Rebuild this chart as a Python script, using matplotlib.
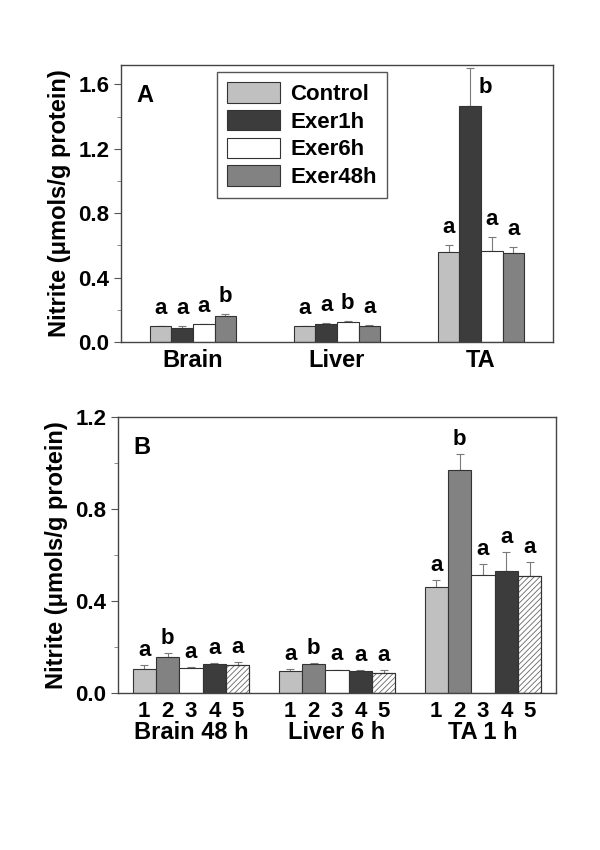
import numpy as np
import matplotlib
matplotlib.use("Agg")
import matplotlib.pyplot as plt
from matplotlib.ticker import MultipleLocator

plt.rcParams['font.family'] = ['Liberation Sans', 'DejaVu Sans']
plt.rcParams['font.weight'] = 'bold'
plt.rcParams['hatch.linewidth'] = 0.6
plt.rcParams['hatch.color'] = '#555555'

# ---- panel A data ----
tissues_a = ['Brain', 'Liver', 'TA']
groups_a = ['Control', 'Exer1h', 'Exer6h', 'Exer48h']
values_a = [[0.097, 0.097, 0.557],   # Control
            [0.089, 0.114, 1.463],   # Exer1h
            [0.110, 0.124, 0.568],   # Exer6h
            [0.164, 0.100, 0.551]]   # Exer48h
errors_a = [[0.005, 0.003, 0.048],
            [0.010, 0.005, 0.240],
            [0.004, 0.004, 0.085],
            [0.010, 0.004, 0.042]]
letters_a = [['a', 'a', 'a'],
             ['a', 'a', 'b'],
             ['a', 'b', 'a'],
             ['b', 'a', 'a']]

# ---- panel B data ----
tissues_b = ['Brain 48 h', 'Liver 6 h', 'TA 1 h']
bar_ids_b = ['1', '2', '3', '4', '5']
values_b = [[0.104, 0.158, 0.108, 0.124, 0.121],
            [0.095, 0.126, 0.100, 0.097, 0.088],
            [0.461, 0.971, 0.515, 0.532, 0.510]]
errors_b = [[0.017, 0.016, 0.006, 0.007, 0.013],
            [0.010, 0.004, 0.002, 0.002, 0.013],
            [0.029, 0.069, 0.045, 0.082, 0.058]]
letters_b = [['a', 'b', 'a', 'a', 'a'],
             ['a', 'b', 'a', 'a', 'a'],
             ['a', 'b', 'a', 'a', 'a']]

colors_a = ['#c0c0c0', '#3c3c3c', '#ffffff', '#828282']
colors_b = ['#c0c0c0', '#828282', '#ffffff', '#3c3c3c', '#ffffff']
hatches_b = [None, None, None, None, '//////']

edge = '#333333'
errc = '#7a7a7a'
fs = 15      # tick labels, letters
fs_lab = 17  # axis / group labels


def style_axes(ax, ymax):
    ax.set_ylim(0, ymax)
    ax.set_xlim(0.5, 3.5)
    ax.yaxis.set_major_locator(MultipleLocator(0.4))
    ax.yaxis.set_minor_locator(MultipleLocator(0.2))
    ax.yaxis.set_major_formatter(plt.FormatStrFormatter('%.1f'))
    ax.tick_params(axis='y', which='major', direction='out', length=5,
                   width=0.8, labelsize=fs + 1, color='#555555')
    ax.tick_params(axis='y', which='minor', direction='out', length=3,
                   width=0.6, color='#777777')
    ax.tick_params(axis='x', length=0)
    for s in ax.spines.values():
        s.set_color('#444444')
        s.set_linewidth(1.0)
    ax.set_ylabel('Nitrite (μmols/g protein)', fontsize=fs_lab,
                  fontweight='bold', labelpad=5)


fig = plt.figure(figsize=(6, 8.5), dpi=100)

# ---------------- panel A ----------------
axA = fig.add_axes([0.2017, 0.5976, 0.72, 0.3259])
centers = np.arange(1, len(tissues_a) + 1)
w = 0.15
n = len(groups_a)
for i, g in enumerate(groups_a):
    x = centers + (i - (n - 1) / 2) * w
    axA.bar(x, values_a[i], width=w, color=colors_a[i], edgecolor=edge,
            linewidth=0.8, label=g, zorder=2)
    axA.errorbar(x, values_a[i], yerr=[np.zeros(len(x)), errors_a[i]],
                 fmt='none', ecolor=errc, elinewidth=0.8, capsize=3,
                 capthick=0.8, zorder=1)
    for j in range(len(x)):
        top = values_a[i][j] + errors_a[i][j]
        off = (0, 5)
        if letters_a[i][j] == 'b' and tissues_a[j] == 'TA':
            off = (11, -22)
        axA.annotate(letters_a[i][j], (x[j], top), xytext=off,
                     textcoords='offset points', ha='center', va='bottom',
                     fontsize=fs + 1, fontweight='bold')
style_axes(axA, 1.72)
axA.set_xticks(centers)
axA.set_xticklabels(tissues_a, fontsize=fs_lab, fontweight='bold')
axA.tick_params(axis='x', pad=5)
axA.text(0.035, 0.93, 'A', transform=axA.transAxes, fontsize=17,
         fontweight='bold', va='top')
leg = axA.legend(loc='upper left', bbox_to_anchor=(0.222, 0.975),
                 fontsize=fs + 1, handlelength=2.4, handleheight=1.05,
                 handletextpad=0.45, labelspacing=0.22, borderpad=0.45,
                 borderaxespad=0, fancybox=False, framealpha=1)
leg.get_frame().set_edgecolor('#555555')
leg.get_frame().set_linewidth(1.0)
for t in leg.get_texts():
    t.set_fontweight('bold')

# ---------------- panel B ----------------
axB = fig.add_axes([0.1967, 0.1847, 0.73, 0.3247])
wb = 0.16
nb = len(bar_ids_b)
ticks = []
ticklabels = []
for j, t in enumerate(tissues_b):
    x = centers[j] + (np.arange(nb) - (nb - 1) / 2) * wb
    axB.bar(x, values_b[j], width=wb, color=colors_b, edgecolor=edge,
            linewidth=0.8, zorder=2)
    for k in range(nb):
        if hatches_b[k]:
            axB.bar(x[k], values_b[j][k], width=wb, color='none',
                    edgecolor='#666666', linewidth=0, hatch=hatches_b[k],
                    zorder=3)
            axB.bar(x[k], values_b[j][k], width=wb, color='none',
                    edgecolor=edge, linewidth=0.8, zorder=4)
    axB.errorbar(x, values_b[j], yerr=[np.zeros(nb), errors_b[j]],
                 fmt='none', ecolor=errc, elinewidth=0.8, capsize=3,
                 capthick=0.8, zorder=1)
    for k in range(nb):
        axB.annotate(letters_b[j][k], (x[k], values_b[j][k] + errors_b[j][k]),
                     xytext=(0, 3), textcoords='offset points', ha='center',
                     va='bottom', fontsize=fs + 1, fontweight='bold')
    ticks.extend(x)
    ticklabels.extend(bar_ids_b)
    axB.text(centers[j], -0.142, t, transform=axB.get_xaxis_transform(),
             ha='center', va='center', fontsize=fs_lab, fontweight='bold')
style_axes(axB, 1.2)
axB.set_xticks(ticks)
axB.set_xticklabels(ticklabels, fontsize=fs + 1, fontweight='bold')
axB.tick_params(axis='x', pad=6)
axB.text(0.035, 0.93, 'B', transform=axB.transAxes, fontsize=17,
         fontweight='bold', va='top')

fig.savefig('out.png', dpi=100)
